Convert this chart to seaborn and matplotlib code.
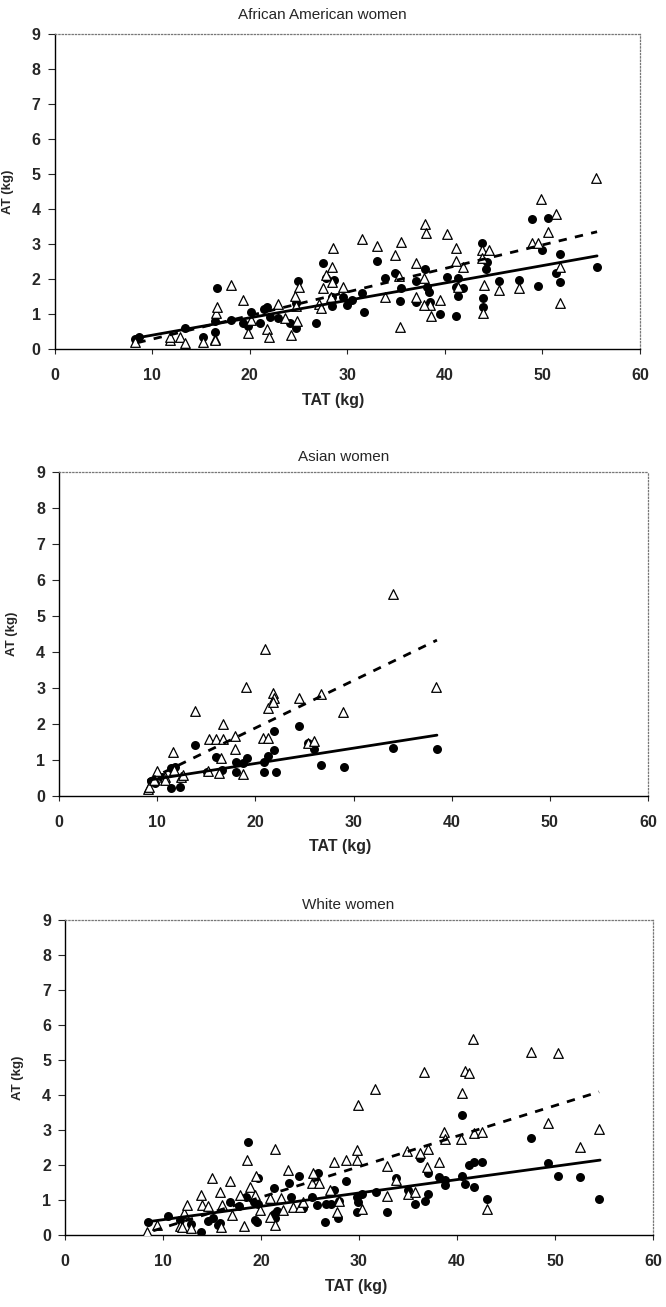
import matplotlib
matplotlib.use("Agg")
import matplotlib.pyplot as plt
import seaborn as sns

# ---- data (TAT kg, AT kg) ----
# circles = filled series (solid fit), triangles = open series (dashed fit)

aa_circ_x = [8.3, 8.7, 13.4, 15.2, 16.4, 16.4, 16.7, 18.1, 19.3, 19.8, 20.1, 21.1, 21.5, 21.8, 22.1,
             22.9, 24.1, 24.7, 24.7, 25.0, 26.8, 27.5, 27.8, 28.6, 28.4, 28.4, 29.6, 30.0, 30.5, 31.5,
             31.7, 33.0, 33.9, 34.9, 35.5, 35.4, 37.0, 37.0, 38.0, 38.2, 38.4, 38.5, 39.5, 40.2, 41.1,
             41.1, 41.4, 41.4, 41.9, 43.8, 44.2, 44.3, 43.9, 43.9, 45.6, 47.6, 48.9, 49.5, 50.0, 50.6,
             51.4, 51.8, 51.8, 55.6]
aa_circ_y = [0.28, 0.35, 0.61, 0.33, 0.50, 0.80, 1.75, 0.83, 0.75, 0.66, 1.07, 0.73, 1.13, 1.21, 0.91,
             0.88, 0.73, 0.59, 1.32, 1.95, 0.73, 2.47, 2.02, 1.97, 1.23, 1.49, 1.49, 1.26, 1.40, 1.59,
             1.07, 2.51, 2.02, 2.16, 1.75, 1.37, 1.94, 1.35, 2.30, 1.78, 1.64, 1.35, 0.99, 2.07, 0.95,
             1.78, 2.02, 1.52, 1.73, 3.02, 2.30, 2.49, 1.45, 1.19, 1.94, 1.97, 3.71, 1.80, 2.83, 3.73,
             2.18, 2.71, 1.91, 2.33]
aa_tri_x = [8.3, 11.8, 11.8, 12.9, 13.4, 15.2, 16.4, 16.4, 16.5, 16.7, 18.1, 19.3, 19.8, 20.1, 21.8,
            22.0, 22.9, 23.6, 24.2, 24.6, 24.7, 24.8, 25.1, 27.1, 27.3, 27.5, 27.8, 28.4, 28.5, 28.3,
            28.4, 29.6, 31.5, 33.0, 33.9, 34.9, 35.3, 35.5, 35.4, 37.0, 37.0, 37.9, 38.0, 38.1, 38.5,
            37.9, 38.6, 39.5, 40.2, 41.1, 41.1, 41.4, 41.9, 43.8, 44.5, 43.8, 44.0, 43.9, 45.6, 47.6,
            48.9, 49.5, 49.9, 50.6, 51.4, 51.8, 51.8, 55.5]
aa_tri_y = [0.21, 0.26, 0.33, 0.33, 0.18, 0.21, 0.30, 0.25, 1.02, 1.21, 1.83, 1.40, 0.45, 0.83, 0.56,
            0.35, 1.28, 0.88, 0.40, 1.51, 1.22, 0.80, 1.78, 1.28, 1.18, 1.73, 2.11, 2.33, 2.88, 1.48,
            1.92, 1.78, 3.13, 2.94, 1.50, 2.69, 2.09, 3.07, 0.64, 2.45, 1.50, 2.02, 3.57, 3.32, 1.26,
            1.26, 0.95, 1.40, 3.29, 2.90, 2.51, 1.78, 2.35, 2.83, 2.83, 2.60, 1.83, 1.04, 1.70, 1.73,
            3.02, 3.04, 4.29, 3.34, 3.85, 2.33, 1.31, 4.88]
aa_solid_x = [8.3, 55.6]
aa_solid_y = [0.31, 2.66]
aa_dash_x = [8.5, 55.6]
aa_dash_y = [0.18, 3.35]

as_circ_x = [9.4, 9.8, 10.5, 11.4, 11.4, 11.8, 12.3, 13.9, 15.1, 16.0, 16.6, 18.0, 18.0, 18.7, 19.2,
             20.9, 20.9, 21.3, 21.9, 21.9, 22.1, 24.4, 25.4, 26.0, 26.7, 29.0, 34.0, 38.5]
as_circ_y = [0.42, 0.36, 0.52, 0.23, 0.77, 0.81, 0.26, 1.42, 0.68, 1.09, 0.72, 0.95, 0.66, 0.91, 1.05,
             0.95, 0.68, 1.11, 1.81, 1.28, 0.68, 1.95, 1.46, 1.31, 0.86, 0.80, 1.32, 1.31]
as_tri_x = [9.1, 9.2, 9.7, 10.0, 10.8, 10.8, 11.6, 11.7, 12.4, 12.6, 13.9, 15.2, 15.3, 16.0, 16.3,
            16.5, 16.7, 16.7, 17.9, 17.9, 18.7, 19.1, 20.8, 21.0, 21.3, 21.3, 21.8, 21.9, 21.8, 24.4,
            25.4, 26.0, 26.7, 28.9, 34.0, 38.4]
as_tri_y = [0.19, 0.25, 0.45, 0.69, 0.54, 0.44, 1.21, 0.72, 0.54, 0.58, 2.37, 0.70, 1.57, 1.57, 0.65,
            1.05, 1.57, 1.99, 1.67, 1.30, 0.61, 3.04, 1.60, 4.08, 2.44, 1.62, 2.87, 2.73, 2.60, 2.71,
            1.46, 1.53, 2.83, 2.33, 5.60, 3.04]
as_solid_x = [9.1, 38.5]
as_solid_y = [0.44, 1.69]
as_dash_x = [9.1, 38.5]
as_dash_y = [0.45, 4.33]

wh_circ_x = [8.5, 10.5, 11.7, 12.9, 13.9, 14.6, 15.1, 15.6, 15.8, 16.8, 17.8, 18.5, 18.7, 19.3, 19.4,
             19.6, 19.7, 19.7, 21.3, 21.3, 21.4, 21.6, 22.9, 23.1, 23.9, 24.3, 25.2, 25.7, 25.8, 26.5,
             26.6, 27.4, 27.1, 27.9, 28.0, 28.7, 29.8, 29.9, 29.8, 30.3, 31.7, 32.9, 33.8, 35.0, 35.7,
             36.2, 36.7, 37.0, 37.0, 38.2, 38.8, 38.8, 40.5, 40.5, 40.8, 41.2, 41.7, 41.7, 42.6, 43.1,
             47.6, 49.3, 50.3, 52.6, 54.5]
wh_circ_y = [0.38, 0.53, 0.43, 0.31, 0.10, 0.40, 0.50, 0.30, 0.35, 0.95, 0.82, 1.09, 2.65, 0.93, 0.44,
             0.38, 1.62, 0.88, 1.33, 0.60, 0.48, 0.69, 1.48, 1.09, 1.69, 0.76, 1.10, 0.86, 1.78, 0.38,
             0.90, 1.29, 0.90, 0.48, 0.96, 1.55, 1.09, 0.94, 0.67, 1.18, 1.24, 0.67, 1.62, 1.30, 0.90,
             2.19, 0.96, 1.76, 1.16, 1.67, 1.57, 1.43, 3.43, 1.68, 1.47, 2.00, 2.08, 1.38, 2.08, 1.02,
             2.76, 2.07, 1.69, 1.67, 1.02]
wh_tri_x = [8.4, 9.4, 11.7, 11.9, 12.1, 12.4, 12.9, 13.9, 14.0, 14.6, 15.0, 15.8, 16.0, 15.9, 16.8,
            17.0, 17.9, 18.3, 18.6, 18.9, 19.4, 19.5, 19.9, 20.9, 20.9, 21.4, 21.4, 22.0, 22.2, 22.8,
            23.3, 24.0, 24.3, 25.2, 25.3, 25.9, 27.0, 27.4, 27.8, 28.0, 28.7, 29.8, 29.8, 29.9, 30.3,
            31.6, 32.9, 32.9, 33.8, 34.9, 35.0, 35.7, 36.2, 36.6, 37.0, 36.9, 38.2, 38.7, 38.8, 40.5,
            40.4, 40.8, 41.2, 41.6, 41.7, 42.6, 43.1, 47.6, 49.3, 50.3, 52.6, 54.5]
wh_tri_y = [0.09, 0.29, 0.26, 0.24, 0.62, 0.86, 0.20, 1.14, 0.86, 0.83, 1.62, 1.24, 0.86, 0.24, 1.55,
            0.57, 1.14, 0.27, 2.14, 1.38, 1.14, 1.70, 0.71, 1.05, 0.52, 2.46, 0.29, 1.05, 0.71, 1.86,
            0.81, 0.81, 0.95, 1.48, 1.76, 1.48, 1.29, 2.09, 0.65, 0.96, 2.14, 2.43, 2.13, 3.71, 0.73,
            4.16, 1.98, 1.11, 1.57, 2.40, 1.16, 1.24, 2.33, 4.65, 2.47, 1.93, 2.09, 2.93, 2.74, 4.05,
            2.74, 4.69, 4.63, 5.60, 2.91, 2.93, 0.73, 5.22, 3.21, 5.19, 2.51, 3.03]
wh_solid_x = [8.5, 54.6]
wh_solid_y = [0.38, 2.14]
wh_dash_x = [9.0, 54.5]
wh_dash_y = [0.12, 4.09]

titles = ["African American women", "Asian women", "White women"]
x_ticks = [0, 10, 20, 30, 40, 50, 60]
y_ticks = [0, 1, 2, 3, 4, 5, 6, 7, 8, 9]

panels = [
    (titles[0], aa_circ_x, aa_circ_y, aa_tri_x, aa_tri_y, aa_solid_x, aa_solid_y, aa_dash_x, aa_dash_y),
    (titles[1], as_circ_x, as_circ_y, as_tri_x, as_tri_y, as_solid_x, as_solid_y, as_dash_x, as_dash_y),
    (titles[2], wh_circ_x, wh_circ_y, wh_tri_x, wh_tri_y, wh_solid_x, wh_solid_y, wh_dash_x, wh_dash_y),
]

# layout in pixels: left, top, right, bottom of plot box; title (cx, cy); xlabel (cx, cy); ylabel cx
layout = [
    (54.5, 34, 640, 349, (322, 15), (333, 400), 8),
    (59, 472, 648, 796, (344, 457), (340, 847), 12),
    (65, 920, 653, 1235, (348, 905), (356, 1287), 18),
]

sns.set_style("ticks")
plt.rcParams["font.family"] = ["Liberation Sans", "DejaVu Sans"]

W, H = 666, 1307
fig = plt.figure(figsize=(W / 100, H / 100), dpi=100)

for (title, cx, cy, tx, ty, sx, sy, dx, dy), (l, t, r, b, tpos, xlpos, ylx) in zip(panels, layout):
    w, h = r - l, b - t
    ax = fig.add_axes([l / W, 1 - b / H, w / W, h / H])

    sns.scatterplot(x=cx, y=cy, marker="o", s=42, color="black", edgecolor="black",
                    linewidth=0, ax=ax, zorder=3)
    sns.scatterplot(x=tx, y=ty, marker="^", s=48, facecolor="white", edgecolor="black",
                    linewidth=0.9, ax=ax, zorder=3)
    sns.lineplot(x=sx, y=sy, color="black", linewidth=2.0, ax=ax, zorder=4)
    sns.lineplot(x=dx, y=dy, color="black", linewidth=2.0, linestyle=(0, (3, 3)), ax=ax, zorder=4)

    ax.set_xlim(0, 60)
    ax.set_ylim(0, 9)
    ax.set_xticks(x_ticks)
    ax.set_xticklabels([str(v) for v in x_ticks], fontweight="bold", fontsize=11.5)
    ax.set_yticks(y_ticks)
    ax.set_yticklabels([str(v) for v in y_ticks], fontweight="bold", fontsize=11.5)
    ax.tick_params(axis="x", direction="out", length=3.6, width=0.8, pad=10)
    ax.tick_params(axis="y", direction="out", length=5, width=0.8, pad=5)

    for side in ["top", "right"]:
        ax.spines[side].set_visible(True)
        ax.spines[side].set_linestyle(":")
        ax.spines[side].set_color("#777777")
        ax.spines[side].set_linewidth(0.9)
    for side in ["left", "bottom"]:
        ax.spines[side].set_color("black")
        ax.spines[side].set_linewidth(1.0)

    ax.set_title(title, fontsize=11, x=(tpos[0] - l) / w, y=(b - tpos[1]) / h,
                 va="center", pad=0)
    ax.set_xlabel("TAT (kg)", fontsize=11.5, fontweight="bold")
    ax.xaxis.label.set_va("center")
    ax.xaxis.set_label_coords((xlpos[0] - l) / w, -(xlpos[1] - b) / h)
    ax.set_ylabel("AT (kg)", fontsize=9.5, fontweight="bold")
    ax.yaxis.label.set_va("center")
    ax.yaxis.set_label_coords((ylx - l) / w, 0.5)

fig.savefig("out.png", dpi=100)
